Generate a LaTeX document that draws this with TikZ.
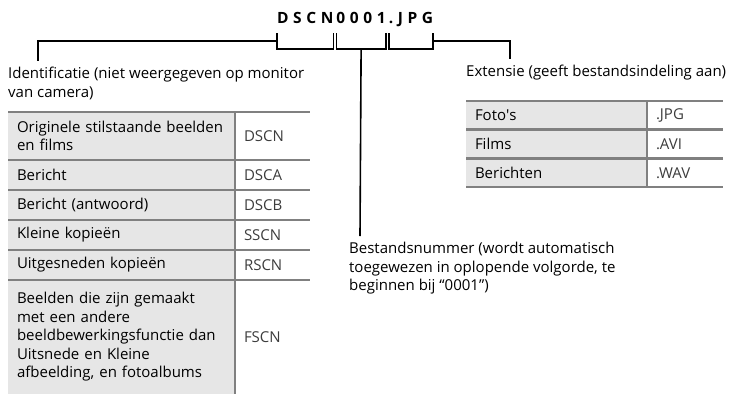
\documentclass[tikz,border=0pt]{standalone}
\usepackage{fontspec}
\setmainfont{Open Sans}
\newfontfamily\titlefont[LetterSpace=30]{Open Sans}
\usepackage{tikz}
\usepackage{xcolor}
\usetikzlibrary{positioning}
\definecolor{rulegray}{RGB}{128,128,128}
\definecolor{cellgray}{RGB}{230,230,230}
\definecolor{codegray}{RGB}{60,60,60}
\tikzstyle{namecell} = [rectangle, 
fill=cellgray, 
minimum width=227pt, 
text width=209pt, 
inner xsep=9pt, inner ysep=0pt, outer sep=0pt, 
align=left]
\tikzstyle{codecell} = [rectangle, 
minimum width=75pt, 
text width=57pt, 
inner xsep=9pt, inner ysep=0pt, outer sep=0pt, 
align=left, text=codegray]
\tikzstyle{extname} = [namecell, minimum width=181pt, text width=163pt]
\tikzstyle{extcode} = [codecell, minimum width=76pt, text width=58pt]
\tikzstyle{part} = [inner sep=0pt, outer sep=0pt, text height=11pt, text depth=0pt, 
font=\titlefont\bfseries\fontsize{15.5}{18}\selectfont]
\tikzstyle{caption} = [anchor=north west, inner xsep=0pt, inner ysep=6pt, align=left]
\tikzstyle{bracket} = [line width=1.6pt]
\tikzstyle{rule} = [line width=2.6pt, draw=rulegray]
\tikzstyle{divider} = [line width=2.2pt, draw=rulegray]

\begin{document}
\begin{tikzpicture}[x=1pt, y=1pt, font=\fontsize{15}{18.5}\selectfont]
        \useasboundingbox (0,0) rectangle (732,-394);

        % --- Nombre de archivo ---
        \node (prefix) [part, anchor=south west] at (277,-23) {DSCN};
        \node (number) [part, right=3pt of prefix] {0001};
        \node (ext) [part, right=3pt of number] {.JPG};

        % --- Textos ---
        \node (idlabel) [caption] at (8,-61) {Identificatie (niet weergegeven op monitor\\van camera)};
        \node (extlabel) [caption] at (466,-59) {Extensie (geeft bestandsindeling aan)};
        \node (numlabel) [caption] at (349,-236) {Bestandsnummer (wordt automatisch\\toegewezen in oplopende volgorde, te\\beginnen bij “0001”)};

        % --- Tabla identificatie ---
        \node (orig) [namecell, minimum height=48pt, anchor=north west] at (8,-112) {Originele stilstaande beelden\\en films};
        \node (origcode) [codecell, minimum height=48pt, right=0pt of orig] {DSCN};
        \node (ber) [namecell, minimum height=30pt, below=0pt of orig] {Bericht};
        \node (bercode) [codecell, minimum height=30pt, right=0pt of ber] {DSCA};
        \node (antw) [namecell, minimum height=30pt, below=0pt of ber] {Bericht (antwoord)};
        \node (antwcode) [codecell, minimum height=30pt, right=0pt of antw] {DSCB};
        \node (klein) [namecell, minimum height=30pt, below=0pt of antw] {Kleine kopieën};
        \node (kleincode) [codecell, minimum height=30pt, right=0pt of klein] {SSCN};
        \node (uitg) [namecell, minimum height=30pt, below=0pt of klein] {Uitgesneden kopieën};
        \node (uitgcode) [codecell, minimum height=30pt, right=0pt of uitg] {RSCN};
        \node (beeld) [namecell, minimum height=114pt, below=0pt of uitg] {Beelden die zijn gemaakt\\met een andere\\beeldbewerkingsfunctie dan\\Uitsnede en Kleine\\afbeelding, en fotoalbums};
        \node (beeldcode) [codecell, minimum height=114pt, right=0pt of beeld] {FSCN};

        % --- Tabla extensie ---
        \node (foto) [extname, minimum height=28.7pt, anchor=north west] at (466,-101) {Foto\textquotesingle s};
        \node (fotocode) [extcode, minimum height=28.7pt, right=0pt of foto] {.JPG};
        \node (films) [extname, minimum height=28.7pt, below=0pt of foto] {Films};
        \node (filmscode) [extcode, minimum height=28.7pt, right=0pt of films] {.AVI};
        \node (msg) [extname, minimum height=28.7pt, below=0pt of films] {Berichten};
        \node (msgcode) [extcode, minimum height=28.7pt, right=0pt of msg] {.WAV};

        % --- Lineas de tabla ---
        \draw [divider] (origcode.north west) -- (beeldcode.south west);
        \draw [divider] (fotocode.north west) -- (msgcode.south west);
        \draw [rule] (orig.north west) -- (origcode.north east);
        \draw [rule] (ber.north west) -- (bercode.north east);
        \draw [rule] (antw.north west) -- (antwcode.north east);
        \draw [rule] (klein.north west) -- (kleincode.north east);
        \draw [rule] (uitg.north west) -- (uitgcode.north east);
        \draw [rule] (beeld.north west) -- (beeldcode.north east);
        \draw [rule] (foto.north west) -- (fotocode.north east);
        \draw [rule] (films.north west) -- (filmscode.north east);
        \draw [rule] (msg.north west) -- (msgcode.north east);
        \draw [rule] (msg.south west) -- (msgcode.south east);

        % --- Corchetes ---
        \draw [bracket] ([yshift=-10pt]prefix.south west) |- ([yshift=-26pt]prefix.south east) -- ([yshift=-10pt]prefix.south east);
        \draw [bracket] ([yshift=-10pt]number.south west) |- ([yshift=-26pt]number.south east) -- ([yshift=-10pt]number.south east);
        \draw [bracket] ([yshift=-10pt]ext.south west) |- ([yshift=-26pt]ext.south east) -- ([yshift=-10pt]ext.south east);

        % --- Conexiones ---
        \draw [bracket] ([yshift=-18pt]prefix.south west) -| ([xshift=30pt]idlabel.north west);
        \draw [bracket] ([yshift=-26pt]number.south) -- ([xshift=11pt]numlabel.north west);
        \draw [bracket] ([yshift=-18pt]ext.south east) -| ([xshift=44pt]extlabel.north west);

    \end{tikzpicture}
\end{document}
